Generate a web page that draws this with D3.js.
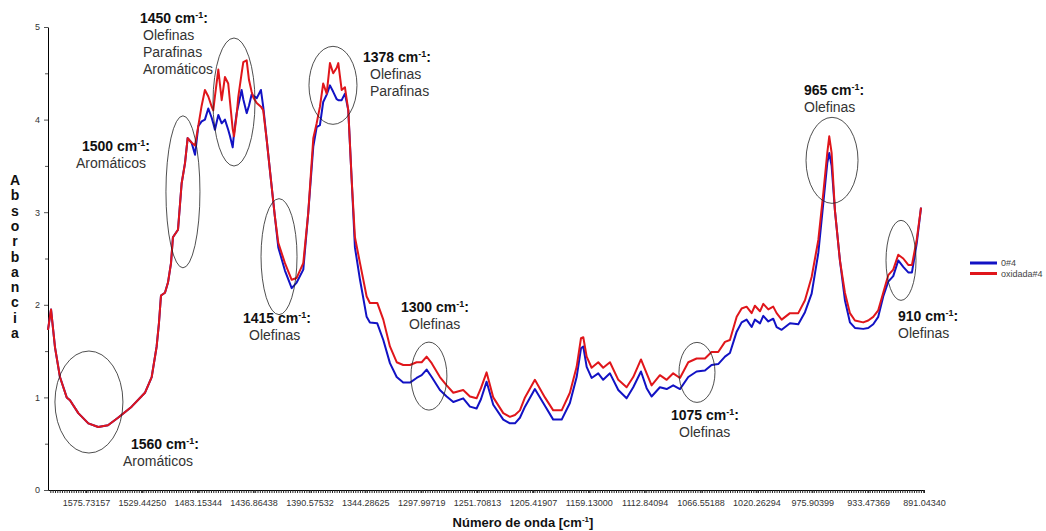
<!DOCTYPE html>
<html>
<head>
<meta charset="utf-8">
<script src="https://cdn.jsdelivr.net/npm/d3@7"></script>
<style>
    body { margin: 0; background: #fff; }
    svg { display: block; font-family: "Liberation Sans", Arial, sans-serif; }
    .tick text { fill: #333; }
</style>
</head>
<body>
<svg id="chart" width="1046" height="531"></svg>
<script>
    // wavenumber of each sampled point (cm-1), descending
    const wavenumbers = [
        1607.2, 1604.7, 1601.4, 1597.3, 1591.7, 1589.0, 1582.1, 1573.8, 1565.6, 1557.5,
        1549.2, 1537.9, 1526.9, 1521.3, 1517.2, 1515.3, 1513.6, 1510.3, 1507.8, 1505.3,
        1503.7, 1499.5, 1496.5, 1493.7, 1491.5, 1488.2, 1485.4, 1482.7, 1479.9, 1477.2,
        1474.4, 1471.6, 1470.3, 1468.9, 1466.1, 1463.3, 1460.6, 1457.9, 1456.4, 1454.2,
        1453.1, 1450.9, 1449.6, 1446.8, 1445.4, 1442.6, 1440.7, 1438.5, 1437.1, 1434.3,
        1430.8, 1428.9, 1426.0, 1422.5, 1419.2, 1416.4, 1410.9, 1405.3, 1401.2, 1395.7,
        1391.6, 1387.4, 1384.6, 1381.9, 1379.2, 1376.3, 1373.6, 1370.9, 1368.0, 1366.7,
        1363.9, 1361.2, 1358.4, 1355.6, 1352.9, 1348.7, 1343.2, 1340.5, 1334.4, 1329.4,
        1323.9, 1318.3, 1312.9, 1307.3, 1301.8, 1297.6, 1293.5, 1289.3, 1282.5, 1276.9,
        1271.4, 1263.2, 1257.6, 1252.1, 1248.5, 1243.8, 1238.3, 1230.0, 1224.5, 1220.3,
        1216.2, 1212.0, 1203.8, 1195.5, 1188.6, 1181.6, 1174.8, 1169.2, 1165.6, 1163.7,
        1160.9, 1156.8, 1151.3, 1147.2, 1141.6, 1134.7, 1127.8, 1122.3, 1115.9, 1111.2,
        1107.1, 1100.2, 1094.6, 1089.2, 1083.6, 1076.7, 1069.8, 1062.9, 1057.4, 1051.9,
        1046.3, 1042.2, 1036.6, 1032.5, 1028.4, 1024.2, 1021.5, 1017.4, 1014.8, 1010.8,
        1006.9, 1004.2, 1000.2, 993.6, 987.0, 981.7, 976.4, 971.3, 967.5, 964.5,
        963.0, 961.2, 958.7, 954.9, 951.1, 947.3, 943.5, 937.2, 933.4, 929.6,
        925.8, 922.0, 918.2, 914.4, 910.6, 906.8, 903.0, 900.2, 896.6, 893.3
    ];

    // absorbance, sample 0#4
    const abs0 = [
        1.73, 1.95, 1.54, 1.22, 1.00, 0.97, 0.83, 0.72, 0.68, 0.70,
        0.78, 0.90, 1.05, 1.22, 1.55, 1.80, 2.10, 2.13, 2.24, 2.45,
        2.73, 2.81, 3.31, 3.53, 3.80, 3.75, 3.62, 3.93, 3.98, 4.00,
        4.12, 4.02, 3.96, 3.89, 4.05, 3.96, 4.00, 3.89, 3.82, 3.70,
        3.85, 4.07, 4.15, 4.32, 4.22, 4.07, 4.15, 4.27, 4.26, 4.23,
        4.32, 4.14, 3.78, 3.35, 2.95, 2.62, 2.37, 2.18, 2.24, 2.38,
        2.99, 3.71, 3.92, 3.94, 4.19, 4.27, 4.37, 4.30, 4.22, 4.21,
        4.21, 4.28, 4.10, 3.35, 2.62, 2.27, 1.87, 1.81, 1.80, 1.62,
        1.37, 1.22, 1.16, 1.16, 1.21, 1.24, 1.30, 1.22, 1.08, 1.01,
        0.95, 0.99, 0.90, 0.88, 0.98, 1.17, 0.92, 0.76, 0.72, 0.72,
        0.78, 0.90, 1.09, 0.91, 0.76, 0.76, 0.94, 1.22, 1.53, 1.55,
        1.33, 1.21, 1.26, 1.19, 1.26, 1.08, 0.99, 1.11, 1.28, 1.10,
        1.01, 1.11, 1.09, 1.13, 1.09, 1.22, 1.28, 1.29, 1.35, 1.36,
        1.44, 1.48, 1.71, 1.81, 1.84, 1.76, 1.84, 1.80, 1.88, 1.82,
        1.85, 1.76, 1.73, 1.80, 1.79, 1.92, 2.12, 2.56, 3.10, 3.53,
        3.64, 3.50, 3.02, 2.48, 2.05, 1.81, 1.75, 1.74, 1.75, 1.79,
        1.87, 2.09, 2.25, 2.31, 2.48, 2.41, 2.35, 2.35, 2.66, 3.05
    ];

    // absorbance, sample oxidada#4
    const absOx = [
        1.73, 1.95, 1.54, 1.22, 1.00, 0.97, 0.83, 0.72, 0.68, 0.70,
        0.78, 0.90, 1.05, 1.22, 1.55, 1.80, 2.10, 2.13, 2.24, 2.45,
        2.73, 2.81, 3.31, 3.53, 3.80, 3.75, 3.72, 3.93, 4.15, 4.32,
        4.25, 4.14, 4.10, 4.25, 4.54, 4.21, 4.46, 4.39, 4.19, 3.90,
        3.82, 4.05, 4.24, 4.50, 4.62, 4.64, 4.43, 4.30, 4.24, 4.18,
        4.14, 4.10, 3.78, 3.35, 2.95, 2.67, 2.45, 2.27, 2.29, 2.45,
        2.99, 3.80, 3.96, 4.14, 4.39, 4.28, 4.61, 4.50, 4.56, 4.61,
        4.32, 4.35, 4.10, 3.35, 2.73, 2.45, 2.09, 2.02, 2.02, 1.84,
        1.55, 1.38, 1.35, 1.35, 1.38, 1.38, 1.44, 1.37, 1.22, 1.13,
        1.05, 1.08, 1.01, 0.99, 1.10, 1.27, 1.00, 0.83, 0.79, 0.81,
        0.86, 1.00, 1.19, 1.00, 0.86, 0.86, 1.05, 1.33, 1.64, 1.65,
        1.44, 1.32, 1.38, 1.32, 1.38, 1.19, 1.11, 1.22, 1.41, 1.26,
        1.13, 1.24, 1.19, 1.26, 1.21, 1.38, 1.42, 1.42, 1.49, 1.49,
        1.60, 1.62, 1.87, 1.96, 1.98, 1.91, 1.99, 1.93, 2.01, 1.95,
        1.98, 1.91, 1.84, 1.91, 1.91, 2.05, 2.30, 2.70, 3.21, 3.64,
        3.82, 3.64, 3.02, 2.48, 2.13, 1.91, 1.83, 1.81, 1.83, 1.87,
        1.94, 2.13, 2.32, 2.38, 2.54, 2.50, 2.43, 2.43, 2.70, 3.05
    ];

    const tickLabels = [
        "1575.73157", "1529.44250", "1483.15344", "1436.86438", "1390.57532", "1344.28625",
        "1297.99719", "1251.70813", "1205.41907", "1159.13000", "1112.84094", "1066.55188",
        "1020.26294", "975.90399", "933.47369", "891.04340"
    ];
    const yTicks = [0, 1, 2, 3, 4, 5];
    const seriesNames = ["0#4", "oxidada#4"];
    const seriesColors = ["#1212c4", "#e0161b"];

    // band annotations: ellipse centre in data units, text in pixels
    const bands = [
        { wn: 1573.3, a: 0.95, rx: 34, ry: 51, head: "1560", lines: ["Aromáticos"], tx: 131, ty: 449, lx: 123 },
        { wn: 1495.4, a: 3.22, rx: 17, ry: 76, head: "1500", lines: ["Aromáticos"], tx: 82, ty: 151, lx: 76 },
        { wn: 1453.1, a: 4.19, rx: 21, ry: 64, head: "1450", lines: ["Olefinas", "Parafinas", "Aromáticos"], tx: 140, ty: 23, lx: 143 },
        { wn: 1415.8, a: 2.52, rx: 18, ry: 58, head: "1415", lines: ["Olefinas"], tx: 243, ty: 323, lx: 249 },
        { wn: 1371.1, a: 4.37, rx: 24, ry: 39, head: "1378", lines: ["Olefinas", "Parafinas"], tx: 363, ty: 62, lx: 370 },
        { wn: 1291.6, a: 1.23, rx: 18, ry: 34, head: "1300", lines: ["Olefinas"], tx: 401, ty: 312, lx: 409 },
        { wn: 1069.5, a: 1.27, rx: 18, ry: 30, head: "1075", lines: ["Olefinas"], tx: 671, ty: 420, lx: 679 },
        { wn: 960.9, a: 3.56, rx: 26, ry: 43, head: "965", lines: ["Olefinas"], tx: 804, ty: 95, lx: 804 },
        { wn: 908.5, a: 2.48, rx: 15, ry: 40, head: "910", lines: ["Olefinas"], tx: 898, ty: 321, lx: 898 }
    ];

    const plot = { left: 48, right: 924, top: 27, bottom: 490, firstTick: 86 };
    const svg = d3.select("#chart");

    // index-like axis: labels evenly spaced, so use a piecewise linear scale
    let tickValues = tickLabels.map(Number);
    let step = (plot.right - plot.firstTick) / (tickValues.length - 1);
    let x = d3.scaleLinear()
        .domain([wavenumbers[0]].concat(tickValues))
        .range([plot.left].concat(tickValues.map((d, i) => plot.firstTick + i * step)));
    let y = d3.scaleLinear().domain([0, 5]).range([plot.bottom, plot.top]);

    // dense minor ticks along the x axis
    let minorX = d3.range(plot.left + step / 24, plot.right + 0.5, step / 24).map(p => x.invert(p));
    svg.append("g")
        .attr("transform", `translate(0,${plot.bottom})`)
        .call(d3.axisBottom(x).tickValues(minorX).tickSize(3).tickSizeOuter(0).tickFormat(""))
        .call(g => g.selectAll("line").attr("stroke", "#222").attr("stroke-width", 1))
        .call(g => g.select(".domain").attr("stroke", "#000"));

    svg.append("g")
        .attr("transform", `translate(0,${plot.bottom})`)
        .call(d3.axisBottom(x).tickValues(tickValues).tickSize(3).tickSizeOuter(0)
            .tickFormat((d, i) => tickLabels[i]))
        .call(g => g.select(".domain").remove())
        .call(g => g.selectAll("line").attr("stroke", "#222").attr("stroke-width", 1))
        .call(g => g.selectAll("text").attr("font-size", 9).attr("dy", "1.1em"));

    // y axis
    svg.append("g")
        .attr("transform", `translate(${plot.left},0)`)
        .call(d3.axisLeft(y).tickValues(d3.range(0.5, 5, 1)).tickSize(3).tickFormat(""))
        .call(g => g.select(".domain").remove())
        .call(g => g.selectAll("line").attr("stroke", "#555"));

    svg.append("g")
        .attr("transform", `translate(${plot.left},0)`)
        .call(d3.axisLeft(y).tickValues(yTicks).tickSize(4).tickSizeOuter(0).tickPadding(4)
            .tickFormat(d3.format("d")))
        .call(g => g.select(".domain").attr("stroke", "#000"))
        .call(g => g.selectAll("line").attr("stroke", "#555"))
        .call(g => g.selectAll("text").attr("font-size", 9));

    // curves
    let line = d3.line()
        .x((d, i) => x(wavenumbers[i]))
        .y(d => y(d));

    [abs0, absOx].forEach((vals, k) => {
        svg.append("path")
            .datum(vals)
            .attr("d", line)
            .attr("fill", "none")
            .attr("stroke", seriesColors[k])
            .attr("stroke-width", 2)
            .attr("stroke-linejoin", "round");
    });

    // ellipses and labels
    let ann = svg.append("g");
    bands.forEach(b => {
        ann.append("ellipse")
            .attr("cx", x(b.wn))
            .attr("cy", y(b.a))
            .attr("rx", b.rx)
            .attr("ry", b.ry)
            .attr("fill", "none")
            .attr("stroke", "#222")
            .attr("stroke-width", 0.8);

        let head = ann.append("text")
            .attr("x", b.tx)
            .attr("y", b.ty)
            .attr("font-size", 14)
            .attr("font-weight", "bold")
            .attr("fill", "#111");
        head.append("tspan").text(b.head + " cm");
        head.append("tspan").attr("dy", -5).attr("font-size", 9).text("-1");
        head.append("tspan").attr("dy", 5).text(":");

        b.lines.forEach((t, j) => {
            ann.append("text")
                .attr("x", b.lx)
                .attr("y", b.ty + 17 * (j + 1))
                .attr("font-size", 14)
                .attr("fill", "#333")
                .text(t);
        });
    });

    // axis titles
    let yTitle = "Absorbancia".split("");
    svg.append("g").selectAll("text")
        .data(yTitle)
        .join("text")
        .attr("x", 15)
        .attr("y", (d, i) => 185 + i * 15.3)
        .attr("text-anchor", "middle")
        .attr("font-size", 14)
        .attr("font-weight", "bold")
        .attr("fill", "#111")
        .text(d => d);

    let xTitle = svg.append("text")
        .attr("x", 523)
        .attr("y", 527)
        .attr("text-anchor", "middle")
        .attr("font-size", 13)
        .attr("font-weight", "bold")
        .attr("fill", "#111");
    xTitle.append("tspan").text("Número de onda [cm");
    xTitle.append("tspan").attr("dy", -5).attr("font-size", 8).text("-1");
    xTitle.append("tspan").attr("dy", 5).text("]");

    // legend
    let legend = svg.append("g").attr("transform", "translate(970,263)");
    seriesNames.forEach((name, k) => {
        let row = legend.append("g").attr("transform", `translate(0,${k * 10.5})`);
        row.append("line")
            .attr("x1", 0).attr("x2", 27)
            .attr("stroke", seriesColors[k])
            .attr("stroke-width", 3);
        row.append("text")
            .attr("x", 31)
            .attr("y", 3)
            .attr("font-size", 9)
            .attr("fill", "#444")
            .text(name);
    });
</script>
</body>
</html>
